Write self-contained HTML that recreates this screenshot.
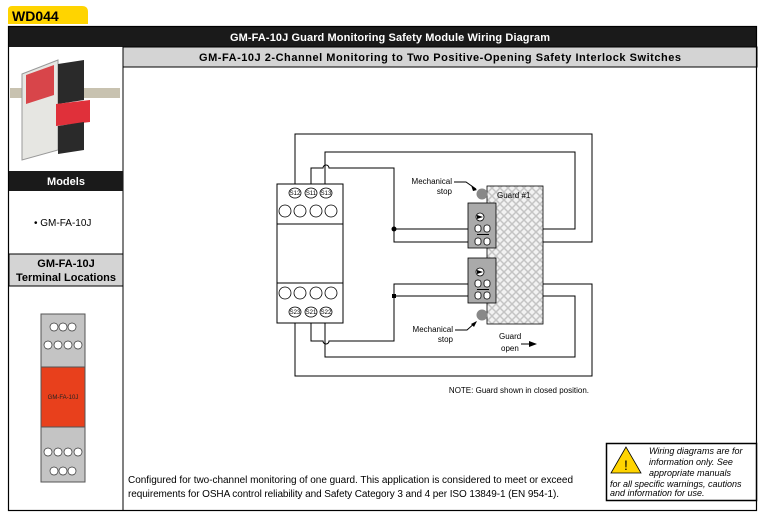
<!DOCTYPE html>
<html><head><meta charset="utf-8"><style>
body{margin:0;background:#fff;width:765px;height:518px;overflow:hidden}
svg{display:block;font-family:"Liberation Sans",Arial,sans-serif}
</style></head><body>
<svg width="765" height="518" viewBox="0 0 765 518" xmlns="http://www.w3.org/2000/svg">
<defs>
<pattern id="hatch" width="8" height="8" patternUnits="userSpaceOnUse">
<rect width="8" height="8" fill="#f2f2f2"/>
<path d="M0 0L8 8M8 0L0 8" stroke="#c4c4c4" stroke-width="1.5"/>
</pattern>
</defs>
<path d="M8 24 L8 10 Q8 6 12 6 L82 6 Q88 6 88 12 L88 24 Z" fill="#ffd400"/>
<text x="12" y="21" font-size="14" font-weight="bold" fill="#000">WD044</text>
<rect x="8" y="26" width="749" height="21" fill="#1a1a1a"/>
<text x="390" y="41" font-size="11" font-weight="bold" fill="#fff" text-anchor="middle" textLength="320">GM-FA-10J Guard Monitoring Safety Module Wiring Diagram</text>
<rect x="123" y="47" width="634" height="20" fill="#d4d4d4" stroke="#000" stroke-width="1"/>
<text x="440" y="61" font-size="11" font-weight="bold" fill="#000" text-anchor="middle" textLength="482">GM-FA-10J 2-Channel Monitoring to Two Positive-Opening Safety Interlock Switches</text>
<rect x="8.5" y="26.5" width="748" height="484" fill="none" stroke="#000" stroke-width="1.2"/>
<line x1="123" y1="47" x2="123" y2="511" stroke="#000"/>
<!-- product image -->
<rect x="10" y="88" width="110" height="10" fill="#c8c2b0"/>
<path d="M22 74 L58 60 L58 150 L22 160Z" fill="#e6e6e2" stroke="#999"/>
<path d="M26 75 L54 65 L54 95 L26 104Z" fill="#d8454a"/>
<path d="M58 64 L84 60 L84 100 L58 104Z" fill="#2a2a2a"/>
<path d="M56 104 L90 100 L90 122 L56 126Z" fill="#e0303a"/>
<path d="M58 126 L84 122 L84 150 L58 154Z" fill="#2a2a2a"/>
<rect x="9" y="171" width="114" height="20" fill="#1a1a1a"/>
<text x="66" y="185" font-size="11" font-weight="bold" fill="#fff" text-anchor="middle">Models</text>
<text x="34" y="226" font-size="10" fill="#000">• GM-FA-10J</text>
<rect x="9" y="254" width="114" height="32" fill="#d4d4d4" stroke="#000"/>
<text x="66" y="267" font-size="11" font-weight="bold" text-anchor="middle">GM-FA-10J</text>
<text x="66" y="281" font-size="11" font-weight="bold" text-anchor="middle">Terminal Locations</text>
<rect x="41" y="314" width="44" height="168" fill="#c4c4c4" stroke="#555"/>
<rect x="41" y="367" width="44" height="60" fill="#e8401c" stroke="#555"/>
<text x="63" y="399" font-size="6" text-anchor="middle" fill="#222">GM-FA-10J</text>
<g fill="#fff" stroke="#333" stroke-width="0.7">
<circle cx="54" cy="327" r="4"/><circle cx="63" cy="327" r="4"/><circle cx="72" cy="327" r="4"/>
<circle cx="48" cy="345" r="4"/><circle cx="58" cy="345" r="4"/><circle cx="68" cy="345" r="4"/><circle cx="78" cy="345" r="4"/>
<circle cx="48" cy="452" r="4"/><circle cx="58" cy="452" r="4"/><circle cx="68" cy="452" r="4"/><circle cx="78" cy="452" r="4"/>
<circle cx="54" cy="471" r="4"/><circle cx="63" cy="471" r="4"/><circle cx="72" cy="471" r="4"/>
</g>
<g fill="none" stroke="#000" stroke-width="1">
<path d="M295 188 V134 H592 V242 H394 V168 H329 A3 3 0 0 0 323 168 H311 V188"/>
<path d="M325 188 V152 H575 V229 H394"/>
<path d="M295 318 V376 H592 V284 H394 V341 H329 A3 3 0 0 1 323 341 H311 V318"/>
<path d="M325 318 V357 H575 V296 H394"/>
</g>
<circle cx="394" cy="229" r="2.5" fill="#000"/>
<rect x="392" y="294" width="4" height="4" fill="#000"/>
<rect x="277" y="184" width="66" height="139" fill="#fff" stroke="#000"/>
<line x1="277" y1="224" x2="343" y2="224" stroke="#000"/>
<line x1="277" y1="283" x2="343" y2="283" stroke="#000"/>
<g fill="#fff" stroke="#000" stroke-width="0.8">
<circle cx="285" cy="211" r="6"/><circle cx="300" cy="211" r="6"/><circle cx="316" cy="211" r="6"/><circle cx="331" cy="211" r="6"/>
<circle cx="285" cy="293" r="6"/><circle cx="300" cy="293" r="6"/><circle cx="316" cy="293" r="6"/><circle cx="331" cy="293" r="6"/>
<ellipse cx="295" cy="193" rx="6" ry="5"/><ellipse cx="311" cy="193" rx="6" ry="5"/><ellipse cx="326" cy="193" rx="6" ry="5"/>
<ellipse cx="295" cy="312" rx="6" ry="5"/><ellipse cx="311" cy="312" rx="6" ry="5"/><ellipse cx="326" cy="312" rx="6" ry="5"/>
</g>
<g font-size="6" text-anchor="middle">
<text x="295" y="195">S12</text><text x="311" y="195">S11</text><text x="326" y="195">S13</text>
<text x="295" y="314">S23</text><text x="311" y="314">S21</text><text x="326" y="314">S22</text>
</g>
<rect x="487" y="186" width="56" height="138" fill="url(#hatch)" stroke="#000" stroke-width="0.8"/>
<text x="497" y="198" font-size="8">Guard #1</text>
<g fill="#aaa" stroke="#000" stroke-width="0.8">
<rect x="468" y="203" width="28" height="45"/>
<rect x="468" y="258" width="28" height="45"/>
</g>
<g fill="#fff" stroke="#000" stroke-width="0.8">
<circle cx="480" cy="217" r="4"/><circle cx="480" cy="272" r="4"/>
<rect x="475" y="225" width="6" height="7" rx="2.5"/><rect x="484" y="225" width="6" height="7" rx="2.5"/>
<rect x="475" y="238" width="6" height="7" rx="2.5"/><rect x="484" y="238" width="6" height="7" rx="2.5"/>
<rect x="475" y="280" width="6" height="7" rx="2.5"/><rect x="484" y="280" width="6" height="7" rx="2.5"/>
<rect x="475" y="292" width="6" height="7" rx="2.5"/><rect x="484" y="292" width="6" height="7" rx="2.5"/>
</g>
<path d="M477 215 L483 217 L477 219Z M477 270 L483 272 L477 274Z" fill="#000"/>
<line x1="477" y1="234.5" x2="489" y2="234.5" stroke="#000"/>
<line x1="477" y1="289.5" x2="489" y2="289.5" stroke="#000"/>
<circle cx="482" cy="194" r="5.5" fill="#888"/>
<circle cx="482" cy="315" r="5.5" fill="#888"/>
<g font-size="8" text-anchor="end">
<text x="452" y="184">Mechanical</text><text x="452" y="194">stop</text>
<text x="453" y="332">Mechanical</text><text x="453" y="342">stop</text>
</g>
<path d="M454 182 H466 L476 189" fill="none" stroke="#000"/>
<path d="M471 185 L477 190 L473 191Z" fill="#000"/>
<path d="M455 330 H467 L476 322" fill="none" stroke="#000"/>
<path d="M471 324 L477 321 L474 327Z" fill="#000"/>
<text x="499" y="339" font-size="8">Guard</text>
<text x="501" y="351" font-size="8">open</text>
<path d="M521 344 H534" stroke="#000"/><path d="M529 341 L537 344 L529 347Z" fill="#000"/>
<text x="589" y="393" font-size="8" text-anchor="end">NOTE: Guard shown in closed position.</text>
<text x="128" y="483" font-size="10" textLength="445">Configured for two-channel monitoring of one guard. This application is considered to meet or exceed</text>
<text x="128" y="497" font-size="10" textLength="431">requirements for OSHA control reliability and Safety Category 3 and 4 per ISO 13849-1 (EN 954-1).</text>
<rect x="606.5" y="443.5" width="150" height="57" fill="#fff" stroke="#000" stroke-width="1.5"/>
<path d="M626 447 L611 473 L641 473Z" fill="#ffd400" stroke="#000" stroke-width="0.8"/>
<text x="626" y="470" font-size="14" text-anchor="middle">!</text>
<g font-size="9" font-style="italic">
<text x="649" y="454">Wiring diagrams are for</text>
<text x="649" y="465">information only. See</text>
<text x="649" y="476">appropriate manuals</text>
<text x="610" y="487">for all specific warnings, cautions</text>
<text x="610" y="496">and information for use.</text>
</g>
</svg>
</body></html>
